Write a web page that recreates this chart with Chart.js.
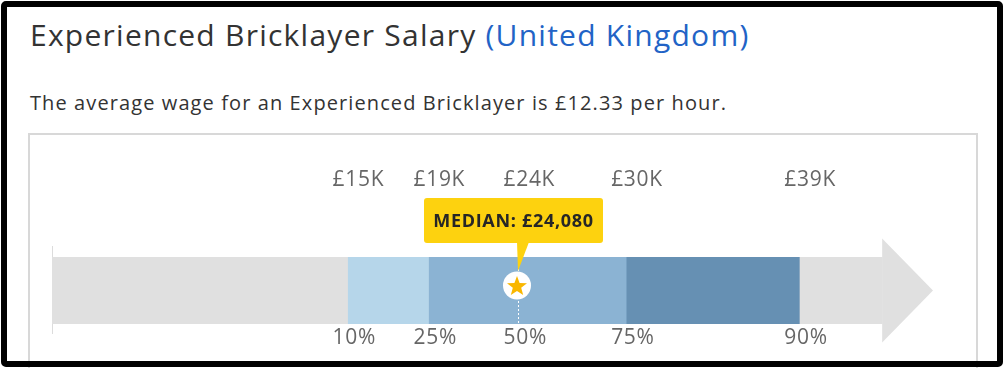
<!DOCTYPE html>
<html>
<head>
<meta charset="utf-8">
<script src="https://cdn.jsdelivr.net/npm/chart.js@4.4.0/dist/chart.umd.min.js"></script>
<style>
  body { margin: 0; width: 1004px; height: 368px; overflow: hidden; background: #fff; position: relative; font-family: 'Open Sans', sans-serif; }
  .frame { position: absolute; left: 1px; top: 1px; width: 1002px; height: 366px; box-sizing: border-box; border: 6px solid #000; border-radius: 5px; z-index: 10; pointer-events: none; }
  h1 { position: absolute; left: 30px; top: 20px; margin: 0; font-size: 30px; line-height: 1; font-weight: 400; color: #333; white-space: nowrap; letter-spacing: 1.25px; }
  h1 span { color: #2263c6; }
  p { position: absolute; left: 30px; top: 93px; margin: 0; font-size: 20px; line-height: 1; color: #333; white-space: nowrap; letter-spacing: 1.1px; }
  .box { position: absolute; left: 28px; top: 133px; width: 950px; height: 300px; box-sizing: border-box; border: 2px solid #d8d8d8; }
  #salary-chart { position: absolute; left: 30px; top: 136px; }
</style>
</head>
<body>
<div class="frame"></div>
<h1>Experienced Bricklayer Salary <span>(United Kingdom)</span></h1>
<p>The average wage for an Experienced Bricklayer is £12.33 per hour.</p>
<div class="box"></div>
<canvas id="salary-chart" width="945" height="232"></canvas>
<script>
// percentile points
const percentiles = ['10%', '25%', '50%', '75%', '90%'];
const salaries = [15000, 19300, 24080, 29800, 39000];
const salaryLabels = ['£15K', '£19K', '£24K', '£30K', '£39K'];
const medianSalary = 24080;
const medianText = 'MEDIAN: £24,080';

// where the grey arrow starts, where its body ends and where the tip is
const scaleMin = -700;
const arrowBodyEnd = 43400;
const scaleMax = 46100;

const segmentColors = ['#e0e0e0', '#b6d6ea', '#8bb3d3', '#6690b3', '#e0e0e0'];
const segments = [
  [scaleMin, salaries[0]],
  [salaries[0], salaries[1]],
  [salaries[1], salaries[3]],
  [salaries[3], salaries[4]],
  [salaries[4], arrowBodyEnd]
];

function drawStar(ctx, cx, cy, outer, inner) {
  ctx.beginPath();
  for (let i = 0; i < 10; i++) {
    const r = i % 2 === 0 ? outer : inner;
    const a = -Math.PI / 2 + i * Math.PI / 5;
    const px = cx + r * Math.cos(a);
    const py = cy + r * Math.sin(a);
    if (i === 0) ctx.moveTo(px, py); else ctx.lineTo(px, py);
  }
  ctx.closePath();
  ctx.fill();
}

const salaryArrow = {
  id: 'salaryArrow',
  beforeDraw(chart) {
    // the tick labels in the picture are spaced a bit wider
    chart.ctx.letterSpacing = '0.7px';
  },
  beforeDatasetsDraw(chart) {
    const ctx = chart.ctx;
    const x = chart.scales.x;
    const area = chart.chartArea;
    const mid = (area.top + area.bottom) / 2;
    ctx.save();
    // arrow head
    ctx.fillStyle = '#e0e0e0';
    ctx.beginPath();
    ctx.moveTo(x.getPixelForValue(arrowBodyEnd), mid - 52);
    ctx.lineTo(x.getPixelForValue(scaleMax), mid);
    ctx.lineTo(x.getPixelForValue(arrowBodyEnd), mid + 52);
    ctx.closePath();
    ctx.fill();
    // small start line
    ctx.strokeStyle = '#dcdcdc';
    ctx.lineWidth = 1;
    ctx.beginPath();
    ctx.moveTo(Math.round(x.getPixelForValue(scaleMin)) + 0.5, area.top - 11);
    ctx.lineTo(Math.round(x.getPixelForValue(scaleMin)) + 0.5, area.bottom + 10);
    ctx.stroke();
    ctx.restore();
  },
  afterDatasetsDraw(chart) {
    const ctx = chart.ctx;
    const x = chart.scales.x;
    const area = chart.chartArea;
    const mid = (area.top + area.bottom) / 2;
    const m = Math.round(x.getPixelForValue(medianSalary));
    ctx.save();
    // dotted median line
    ctx.strokeStyle = '#ffffff';
    ctx.lineWidth = 1;
    ctx.setLineDash([2, 2]);
    ctx.beginPath();
    ctx.moveTo(m + 0.5, area.top);
    ctx.lineTo(m + 0.5, area.bottom);
    ctx.stroke();
    ctx.setLineDash([]);
    // tooltip box + pointer
    const boxTop = area.top - 59;
    const boxH = 45;
    const boxL = m - 94;
    const boxW = 179;
    ctx.fillStyle = '#fdd20f';
    ctx.beginPath();
    ctx.roundRect(boxL, boxTop, boxW, boxH, 3);
    ctx.fill();
    ctx.beginPath();
    ctx.moveTo(m - 1, boxTop + boxH - 1);
    ctx.lineTo(m + 11, boxTop + boxH - 1);
    ctx.lineTo(m, area.top + 14);
    ctx.closePath();
    ctx.fill();
    ctx.fillStyle = '#262626';
    ctx.font = 'bold 18px "Open Sans"';
    ctx.letterSpacing = '0.7px';
    ctx.textAlign = 'center';
    ctx.textBaseline = 'alphabetic';
    ctx.fillText(medianText, boxL + boxW / 2, boxTop + 29);
    // star marker
    ctx.fillStyle = '#ffffff';
    ctx.beginPath();
    ctx.arc(m - 1, mid - 5, 14, 0, Math.PI * 2);
    ctx.fill();
    ctx.fillStyle = '#f9b700';
    drawStar(ctx, m - 1, mid - 4, 10.5, 4.4);
    ctx.restore();
  }
};

const tickFont = { family: 'Open Sans', size: 21 };

new Chart(document.getElementById('salary-chart').getContext('2d'), {
  type: 'bar',
  data: {
    labels: ['salary'],
    datasets: segments.map((seg, i) => ({
      data: [seg],
      backgroundColor: segmentColors[i],
      borderWidth: 0,
      borderSkipped: false,
      grouped: false,
      barPercentage: 1,
      categoryPercentage: 1
    }))
  },
  options: {
    indexAxis: 'y',
    responsive: false,
    animation: false,
    devicePixelRatio: 1,
    layout: { padding: { left: 22, right: 42, top: 0, bottom: 0 } },
    plugins: { legend: { display: false }, tooltip: { enabled: false }, title: { display: false } },
    scales: {
      y: { display: false },
      x: {
        type: 'linear',
        position: 'top',
        min: scaleMin,
        max: scaleMax,
        grid: { display: false, drawTicks: false },
        border: { display: false },
        afterBuildTicks: scale => { scale.ticks = salaries.map(v => ({ value: v })); },
        afterFit: scale => { scale.height = 121; scale.paddingLeft = 0; scale.paddingRight = 0; },
        ticks: {
          autoSkip: false,
          maxRotation: 0,
          align: 'start',
          labelOffset: -15,
          padding: 64,
          color: '#666',
          font: tickFont,
          callback: (v, i) => salaryLabels[i]
        }
      },
      x2: {
        type: 'linear',
        position: 'bottom',
        min: scaleMin,
        max: scaleMax,
        grid: { display: false, drawTicks: false },
        border: { display: false },
        afterBuildTicks: scale => { scale.ticks = salaries.map(v => ({ value: v })); },
        afterFit: scale => { scale.height = 44; scale.paddingLeft = 0; scale.paddingRight = 0; },
        ticks: {
          autoSkip: false,
          maxRotation: 0,
          align: 'start',
          labelOffset: -15,
          padding: 1,
          color: '#666',
          font: tickFont,
          callback: (v, i) => percentiles[i]
        }
      }
    }
  },
  plugins: [salaryArrow]
});
</script>
</body>
</html>
